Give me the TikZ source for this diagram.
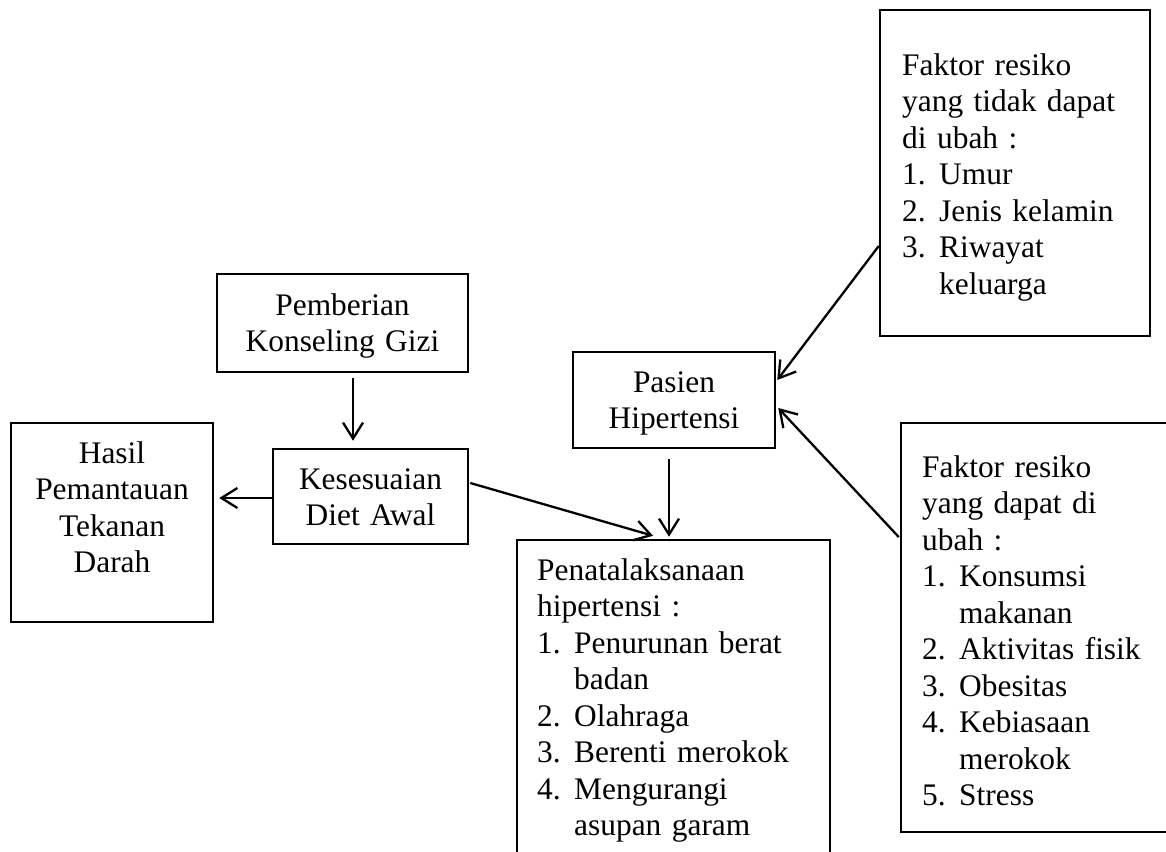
\documentclass[tikz,border=0pt]{standalone}
\usepackage{fontspec}
\setmainfont{Liberation Serif}
\usetikzlibrary{arrows.meta,fit}
\newcommand\lsnum[1]{\makebox[37pt][l]{#1}}
\newcommand\lsind{\hspace*{37pt}}
\begin{document}
\begin{tikzpicture}[x=1pt,y=-1pt,
  box/.style={draw,line width=2.5pt,inner sep=0pt,rectangle},
  ltxt/.style={inner sep=0pt,font=\fontsize{31.4}{36.5}\selectfont,align=left,text width=300pt,anchor=base west},
  ctxt/.style={inner sep=0pt,font=\fontsize{31.4}{36.5}\selectfont,align=center,text width=#1,anchor=base},
  ctxt/.default=200pt,
  arr/.style={line width=2.3pt,-{Straight Barb[length=16pt,width=20pt]}}
]
\clip (0,0) rectangle (1166,851);
% boxes
\node[box,fit={(880,10) (1150,336)}] (f1) {};
\node[box,fit={(901,423) (1190,832)}] (f2) {};
\node[box,fit={(517,540) (830,900)}] (pen) {};
\node[box,fit={(573,352) (775,448)}] (pas) {};
\node[box,fit={(217,274) (468,372)}] (pem) {};
\node[box,fit={(273,449) (468,544)}] (kes) {};
\node[box,fit={(11,423) (213,622)}] (has) {};
% texts
\node[ltxt] (tf1) at (902,75) {Faktor resiko\\yang tidak dapat\\di ubah :\\\lsnum{1.}Umur\\\lsnum{2.}Jenis kelamin\\\lsnum{3.}Riwayat\\\lsind keluarga};
\node[ltxt] (tf2) at (922,477) {Faktor resiko\\yang dapat di\\ubah :\\\lsnum{1.}Konsumsi\\\lsind makanan\\\lsnum{2.}Aktivitas fisik\\\lsnum{3.}Obesitas\\\lsnum{4.}Kebiasaan\\\lsind merokok\\\lsnum{5.}Stress};
\node[ltxt] (tpen) at (537,580) {Penatalaksanaan\\hipertensi :\\\lsnum{1.}Penurunan berat\\\lsind badan\\\lsnum{2.}Olahraga\\\lsnum{3.}Berenti merokok\\\lsnum{4.}Mengurangi\\\lsind asupan garam};
\node[ctxt=200pt] (tpas) at (674,392) {Pasien\\Hipertensi};
\node[ctxt=250pt] (tpem) at (342.5,315) {Pemberian\\Konseling Gizi};
\node[ctxt=195pt] (tkes) at (370.5,489) {Kesesuaian\\Diet Awal};
\node[ctxt=200pt] (thas) at (112,463) {Hasil\\Pemantauan\\Tekanan\\Darah};
% connectors
\draw[arr] ([xshift=10.5pt,yshift=-5pt]pem.south) -- ([xshift=-17.5pt,yshift=7pt]kes.north);
\draw[arr] ([yshift=-1.5pt]kes.west) -- ([xshift=5pt,yshift=24.5pt]has.east);
\draw[arr] ([xshift=1pt,yshift=13.5pt]kes.east) -- ([xshift=-20.5pt,yshift=3pt]pen.north);
\draw[arr] ([xshift=-5pt,yshift=-10pt]pas.south) -- ([xshift=-4.5pt,yshift=2pt]pen.north);
\draw[arr] ([yshift=-73pt]f1.west) -- ([xshift=1pt,yshift=20pt]pas.east);
\draw[arr] ([xshift=-1pt,yshift=90.5pt]f2.west) -- ([xshift=2pt,yshift=-8pt]pas.east);
\end{tikzpicture}
\end{document}
